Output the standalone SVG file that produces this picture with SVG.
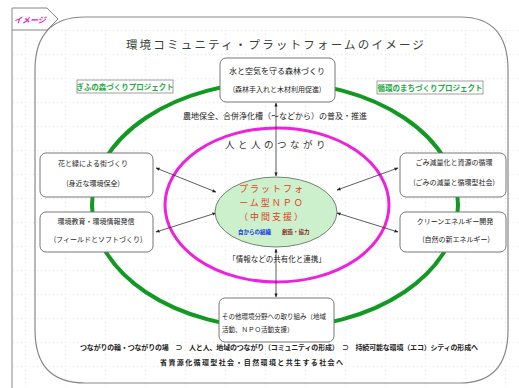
<svg xmlns="http://www.w3.org/2000/svg" width="519" height="388" viewBox="0 0 519 388">
<style>
text{font-family:"Noto Sans CJK JP","Noto Sans",sans-serif;fill:#222}
.box{fill:#fff;stroke:#777;stroke-width:1}
.bt{font-size:7px;text-anchor:middle}
.lbl{fill:#fff;stroke:#888;stroke-width:0.8}
.lt{font-size:7.5px;fill:#22aa44;font-weight:bold;text-anchor:middle}
.conn{stroke:#333;stroke-width:0.8;fill:none;marker-start:url(#ah);marker-end:url(#ah)}
.ctr{font-size:9px;fill:#dd4422;text-anchor:middle;letter-spacing:2px}
</style>
<defs>
<marker id="ah" viewBox="0 0 10 10" refX="9" refY="5" markerWidth="5" markerHeight="5" orient="auto-start-reverse"><path d="M0,1 L10,5 L0,9 Z" fill="#222"/></marker>
<pattern id="grid" x="25" y="6" width="40" height="24" patternUnits="userSpaceOnUse">
<line x1="0" y1="0" x2="0" y2="24" stroke="#c8c8c8" stroke-width="0.8" stroke-dasharray="1 3"/>
<line x1="0" y1="0" x2="40" y2="0" stroke="#c8c8c8" stroke-width="0.8" stroke-dasharray="1 3"/>
</pattern>
</defs>
<rect width="519" height="388" fill="#fff"/>
<rect x="12" y="30" width="507" height="358" fill="url(#grid)"/>
<g id="frame" fill="none" stroke="#888" stroke-width="1">
<path d="M12,30 L12,388"/>
<path d="M12,8 L47,8 L58,19 L47,30 L12,30 Z" fill="#fff"/>
<path d="M35,70 Q35,17 85,17 L460,17 Q508,17 508,70 L508,330 Q508,383 460,383 L85,383 Q35,383 35,330 Z" stroke-width="1.2"/>
</g>
<text x="14" y="23" style="font-size:8px;fill:#dd22cc;font-weight:bold;font-style:italic">イメージ</text>
<text x="276" y="49" style="font-size:11.5px;fill:#334433;text-anchor:middle;letter-spacing:2.2px">環境コミュニティ・プラットフォームのイメージ</text>
<g id="rings" fill="none">
<ellipse cx="275" cy="205" rx="183" ry="123" stroke="#119922" stroke-width="4"/>
<ellipse cx="277" cy="205" rx="112" ry="77" stroke="#ee22dd" stroke-width="3"/>
</g>
<g id="labels">
<rect class="lbl" x="77" y="80" width="96" height="13"/>
<text class="lt" x="125" y="90">ぎふの森づくりプロジェクト</text>
<rect class="lbl" x="377" y="81" width="106" height="13"/>
<text class="lt" x="430" y="91">循環のまちづくりプロジェクト</text>
</g>
<text x="275" y="119" style="font-size:8px;text-anchor:middle">農地保全、合併浄化槽（～などから）の普及・推進</text>
<text x="277" y="148" style="font-size:9.5px;text-anchor:middle;fill:#333;letter-spacing:3.5px">人と人のつながり</text>
<text x="277" y="262" style="font-size:7.5px;text-anchor:middle">「情報などの共有化と連携」</text>
<g id="connectors">
<line class="conn" x1="276" y1="103" x2="276" y2="176"/>
<line class="conn" x1="276" y1="249" x2="276" y2="297"/>
<line class="conn" x1="216" y1="192" x2="156" y2="168"/>
<line class="conn" x1="216" y1="213" x2="156" y2="232"/>
<line class="conn" x1="337" y1="190" x2="398" y2="168"/>
<line class="conn" x1="337" y1="213" x2="398" y2="232"/>
</g>
<g id="n-center">
<ellipse cx="276" cy="212" rx="61" ry="35" fill="#ccf0cc" stroke="#556655" stroke-width="0.8"/>
<text class="ctr" x="272" y="192">プラットフォ</text>
<text class="ctr" x="272" y="206">ーム型ＮＰＯ</text>
<text class="ctr" x="272" y="220">（中間支援）</text>
<text x="238" y="234" style="font-size:5.5px;fill:#1133dd;font-weight:bold">自からの組織</text>
<text x="282" y="234" style="font-size:5.5px;fill:#882222;font-weight:bold">創造・協力</text>
</g>
<g id="n-top">
<rect class="box" x="220" y="58" width="115" height="44" rx="6"/>
<text class="bt" x="277" y="74" style="font-size:8px">水と空気を守る森林づくり</text>
<text class="bt" x="277" y="92">(森林手入れと木材利用促進)</text>
</g>
<g id="n-left1">
<rect class="box" x="40" y="153" width="113" height="44" rx="6"/>
<text class="bt" x="93" y="166">花と緑による街づくり</text>
<text class="bt" x="93" y="186">(身近な環境保全)</text>
</g>
<g id="n-left2">
<rect class="box" x="40" y="212" width="113" height="40" rx="6"/>
<text class="bt" x="96" y="224">環境教育・環境情報発信</text>
<text class="bt" x="98" y="242">(フィールドとソフトづくり)</text>
</g>
<g id="n-right1">
<rect class="box" x="400" y="153" width="106" height="44" rx="6"/>
<text class="bt" x="454" y="165">ごみ減量化と資源の循環</text>
<text class="bt" x="454" y="185">(ごみの減量と循環型社会)</text>
</g>
<g id="n-right2">
<rect class="box" x="400" y="212" width="106" height="40" rx="6"/>
<text class="bt" x="455" y="224">クリーンエネルギー開発</text>
<text class="bt" x="456" y="242">(自然の新エネルギー)</text>
</g>
<g id="n-bottom">
<rect class="box" x="219" y="298" width="115" height="44" rx="6"/>
<text x="222" y="319" style="font-size:6.5px">その他環境分野への取り組み（地域</text>
<text x="222" y="332" style="font-size:6.5px">活動、ＮＰＯ活動支援）</text>
</g>
<text x="80" y="350" style="font-size:7px;font-weight:bold" textLength="398">つながりの輪・つながりの場　⊃　人と人、地域のつながり（コミュニティの形成）　⊃　持続可能な環境（エコ）シティの形成へ</text>
<text x="160" y="365" style="font-size:7px;font-weight:bold" textLength="183">省資源化循環型社会・自然環境と共生する社会へ</text>
</svg>
